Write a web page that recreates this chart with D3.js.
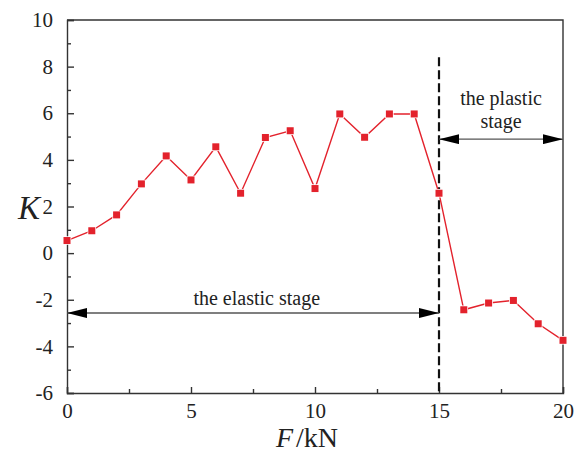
<!DOCTYPE html>
<html><head><meta charset="utf-8"><script src="https://cdn.jsdelivr.net/npm/d3@7"></script></head>
<body style="margin:0">
<script>
// load values F (kN) and coefficient K
let forces = [0, 1, 2, 3, 4, 5, 6, 7, 8, 9, 10, 11, 12, 13, 14, 15, 16, 17, 18, 19, 20];
let kValues = [0.54, 0.96, 1.64, 2.97, 4.17, 3.14, 4.56, 2.57, 4.96, 5.25, 2.77,
               5.97, 4.97, 5.97, 5.97, 2.57, -2.43, -2.14, -2.03, -3.03, -3.74];
let xTicks = [0, 5, 10, 15, 20];
let yTicks = [-6, -4, -2, 0, 2, 4, 6, 8, 10];
let boundaryF = 15;       // elastic / plastic boundary
let boundaryTop = 8.4;    // top of the dashed line
let elasticArrowK = -2.57;
let plasticArrowK = 4.89;

let width = 580, height = 452;
let margin = {top: 20, right: 17, bottom: 59, left: 67};
let serif = "'Liberation Serif'";

let svg = d3.select('body').append('svg')
  .attr('width', width)
  .attr('height', height);

let x = d3.scaleLinear().domain([0, 20]).range([margin.left, width - margin.right]);
let y = d3.scaleLinear().domain([-6, 10]).range([height - margin.bottom, margin.top]);

// arrow heads
svg.append('defs').append('marker')
  .attr('id', 'head')
  .attr('viewBox', '0 0 20 10')
  .attr('refX', 20).attr('refY', 5)
  .attr('markerWidth', 20).attr('markerHeight', 10)
  .attr('markerUnits', 'userSpaceOnUse')
  .attr('orient', 'auto-start-reverse')
  .append('path')
  .attr('d', 'M0,0 L20,5 L0,10 Z')
  .attr('fill', '#000');

// x axis (ticks inside)
svg.append('g')
  .attr('transform', 'translate(0,' + y(-6) + ')')
  .call(d3.axisBottom(x).tickValues(xTicks).tickSize(-6).tickPadding(10).tickFormat(d => String(d)));
svg.append('g')
  .attr('transform', 'translate(0,' + y(-6) + ')')
  .call(d3.axisBottom(x).tickValues([2.5, 7.5, 12.5, 17.5]).tickSize(-4).tickFormat(''))
  .select('.domain').remove();

// y axis
svg.append('g')
  .attr('transform', 'translate(' + x(0) + ',0)')
  .call(d3.axisLeft(y).tickValues(yTicks).tickSize(-7).tickPadding(14).tickFormat(d => String(d)));
svg.append('g')
  .attr('transform', 'translate(' + x(0) + ',0)')
  .call(d3.axisLeft(y).tickValues([-5, -3, -1, 1, 3, 5, 7, 9]).tickSize(-4).tickFormat(''))
  .select('.domain').remove();

svg.selectAll('.tick text').attr('font-size', 21).attr('fill', '#222');
svg.selectAll('.domain, .tick line').attr('stroke', '#333').attr('stroke-width', 1.4);

// top and right frame
svg.append('path')
  .attr('d', 'M' + x(0) + ',' + y(10) + 'H' + x(20) + 'V' + y(-6))
  .attr('fill', 'none')
  .attr('stroke', '#333')
  .attr('stroke-width', 1.4);

// boundary dashed line
svg.append('line')
  .attr('x1', x(boundaryF)).attr('x2', x(boundaryF))
  .attr('y1', y(boundaryTop)).attr('y2', y(-6))
  .attr('stroke', '#111')
  .attr('stroke-width', 2.2)
  .attr('stroke-dasharray', '9,4');

// data line
let line = d3.line().x((d, i) => x(forces[i])).y(d => y(d));
svg.append('path')
  .datum(kValues)
  .attr('d', line)
  .attr('fill', 'none')
  .attr('stroke', '#e3222c')
  .attr('stroke-width', 1.4);

svg.selectAll('rect.pt')
  .data(kValues)
  .enter()
  .append('rect')
  .attr('class', 'pt')
  .attr('x', (d, i) => x(forces[i]) - 3.5)
  .attr('y', d => y(d) - 3.5)
  .attr('width', 7).attr('height', 7)
  .attr('fill', '#e3222c')
  .attr('stroke', '#fff')
  .attr('stroke-width', 1.5)
  .attr('paint-order', 'stroke');

// stage arrows
svg.append('line')
  .attr('x1', x(0)).attr('x2', x(boundaryF))
  .attr('y1', y(elasticArrowK)).attr('y2', y(elasticArrowK))
  .attr('stroke', '#555').attr('stroke-width', 1.4)
  .attr('marker-start', 'url(#head)')
  .attr('marker-end', 'url(#head)');
svg.append('line')
  .attr('x1', x(boundaryF)).attr('x2', x(20))
  .attr('y1', y(plasticArrowK)).attr('y2', y(plasticArrowK))
  .attr('stroke', '#555').attr('stroke-width', 1.4)
  .attr('marker-start', 'url(#head)')
  .attr('marker-end', 'url(#head)');

let labels = [
  {t: 'the elastic stage', x: 7.65, k: elasticArrowK, dy: -8},
  {t: 'the plastic', x: 17.5, k: plasticArrowK, dy: -34},
  {t: 'stage', x: 17.5, k: plasticArrowK, dy: -11}
];
svg.selectAll('text.note')
  .data(labels)
  .enter()
  .append('text')
  .attr('class', 'note')
  .attr('x', d => x(d.x)).attr('y', d => y(d.k) + d.dy)
  .attr('text-anchor', 'middle')
  .attr('font-size', 20)
  .attr('fill', '#222')
  .text(d => d.t);

// axis titles
svg.append('text')
  .attr('x', 29).attr('y', y(2) + 12)
  .attr('text-anchor', 'middle')
  .attr('font-size', 33)
  .attr('font-style', 'italic')
  .attr('fill', '#222')
  .text('K');

let xt = svg.append('text')
  .attr('x', x(10) - 8).attr('y', 447)
  .attr('text-anchor', 'middle')
  .attr('font-size', 28)
  .attr('fill', '#222');
xt.append('tspan').attr('font-style', 'italic').text('F');
xt.append('tspan').attr('dx', 3).text('/');
xt.append('tspan').text('kN');

svg.selectAll('text').style('font-family', d => serif);
</script>
</body>
</html>
